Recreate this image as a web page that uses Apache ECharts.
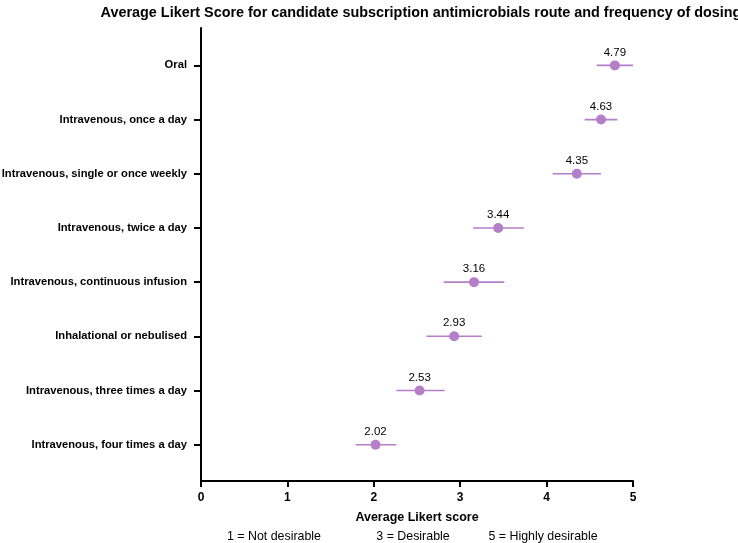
<!DOCTYPE html>
<html>
<head>
<meta charset="utf-8">
<script src="https://cdn.jsdelivr.net/npm/echarts@6/dist/echarts.min.js"></script>
<style>
    html, body { margin: 0; padding: 0; background: #fff; }
    #main { width: 738px; height: 543px; }
</style>
</head>
<body>
<div id="main"></div>
<script>
    // categories listed top to bottom, as in the picture
    var categories = [
        'Oral',
        'Intravenous, once a day',
        'Intravenous, single or once weekly',
        'Intravenous, twice a day',
        'Intravenous, continuous infusion',
        'Inhalational or nebulised',
        'Intravenous, three times a day',
        'Intravenous, four times a day'
    ];
    var means = [4.79, 4.63, 4.35, 3.44, 3.16, 2.93, 2.53, 2.02];
    var lower = [4.58, 4.44, 4.07, 3.15, 2.81, 2.61, 2.26, 1.79];
    var upper = [5.00, 4.82, 4.63, 3.74, 3.51, 3.25, 2.82, 2.26];
    var xTicks = [0, 1, 2, 3, 4, 5];
    var scaleNotes = ['1 = Not desirable', '3 = Desirable', '5 = Highly desirable'];

    var n = categories.length;
    // row position: top category gets n, bottom gets 1
    var rowPos = categories.map(function (c, i) { return n - i; });
    var labelByPos = {};
    categories.forEach(function (c, i) { labelByPos[n - i] = c; });

    var pointData = means.map(function (v, i) { return [v, rowPos[i]]; });
    var barData = means.map(function (v, i) { return [lower[i], upper[i], rowPos[i]]; });

    var purple = '#b47fc8';
    var font = 'Liberation Sans, Arial, sans-serif';

    var chart = echarts.init(document.getElementById('main'));
    chart.setOption({
        animation: false,
        textStyle: { fontFamily: font },
        title: {
            text: 'Average Likert Score for candidate subscription antimicrobials route and frequency of dosing',
            left: 416,
            textAlign: 'center',
            top: 1,
            textStyle: { fontSize: 14.4, fontWeight: 'bold', color: '#000', fontFamily: font }
        },
        grid: { left: 201, right: 105, top: 28, bottom: 62, outerBoundsMode: 'none', containLabel: false },
        xAxis: {
            type: 'value',
            min: xTicks[0],
            max: xTicks[xTicks.length - 1],
            interval: 1,
            name: 'Average Likert score',
            nameLocation: 'middle',
            nameGap: 30,
            nameTextStyle: { fontSize: 12.5, fontWeight: 'bold', color: '#000' },
            axisLine: { onZero: false, lineStyle: { color: '#000', width: 2 } },
            axisTick: { show: true, length: 6, lineStyle: { color: '#000', width: 2 } },
            axisLabel: { fontSize: 12, fontWeight: 'bold', color: '#000', margin: 11 },
            splitLine: { show: false }
        },
        yAxis: {
            type: 'value',
            min: 0.33,
            max: 8.69,
            axisLine: { show: true, lineStyle: { color: '#000', width: 2 } },
            axisTick: { show: true, length: 7, customValues: rowPos, lineStyle: { color: '#000', width: 2 } },
            axisLabel: {
                customValues: rowPos,
                fontSize: 11.2,
                fontWeight: 'bold',
                color: '#000',
                margin: 14,
                formatter: function (v) { return labelByPos[v] || ''; }
            },
            splitLine: { show: false }
        },
        graphic: scaleNotes.map(function (t, i) {
            var cx = [274, 413, 543][i];
            return {
                type: 'text',
                x: cx,
                y: 537,
                style: {
                    text: t,
                    fontSize: 12.4,
                    fontFamily: font,
                    fill: '#000',
                    align: 'center',
                    verticalAlign: 'middle'
                }
            };
        }),
        series: [{
            type: 'custom',
            data: barData,
            renderItem: function (params, api) {
                var a = api.coord([api.value(0), api.value(2)]);
                var b = api.coord([api.value(1), api.value(2)]);
                return {
                    type: 'line',
                    shape: { x1: a[0], y1: a[1], x2: b[0], y2: b[1] },
                    style: { stroke: purple, lineWidth: 1.6 }
                };
            },
            encode: { x: [0, 1], y: 2 },
            z: 1
        }, {
            type: 'scatter',
            data: pointData,
            symbol: 'circle',
            symbolSize: 10,
            itemStyle: { color: purple, opacity: 1 },
            label: {
                show: true,
                position: 'top',
                distance: 2,
                fontSize: 11.5,
                color: '#000',
                formatter: function (p) { return p.value[0].toFixed(2); }
            },
            z: 2
        }]
    });
</script>
</body>
</html>
